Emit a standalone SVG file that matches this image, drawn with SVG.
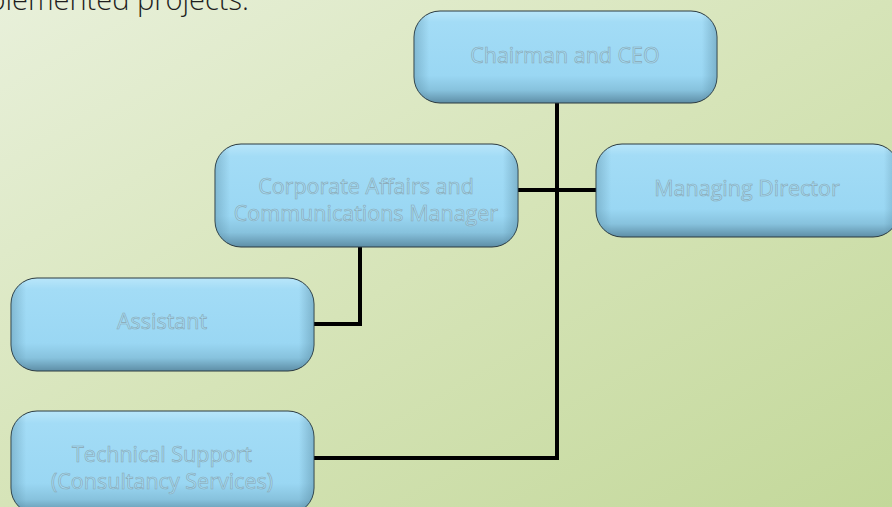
<svg xmlns="http://www.w3.org/2000/svg" width="892" height="507" viewBox="0 0 892 507">
<defs>
<linearGradient id="bg" x1="0" y1="0" x2="1" y2="1" gradientUnits="objectBoundingBox">
<stop offset="0" stop-color="#e8f0da"/>
<stop offset="0.5" stop-color="#d6e4b8"/>
<stop offset="1" stop-color="#c3d89a"/>
</linearGradient>
<linearGradient id="boxv" x1="0" y1="0" x2="0" y2="1">
<stop offset="0" stop-color="#b9e6fa"/>
<stop offset="0.12" stop-color="#a3dcf6"/>
<stop offset="0.7" stop-color="#9ad7f3"/>
<stop offset="0.86" stop-color="#87c2dd"/>
<stop offset="1" stop-color="#5e8ea6"/>
</linearGradient>
<linearGradient id="boxh" x1="0" y1="0" x2="1" y2="0">
<stop offset="0" stop-color="#4a7a90" stop-opacity="0.35"/>
<stop offset="0.05" stop-color="#4a7a90" stop-opacity="0"/>
<stop offset="0.95" stop-color="#4a7a90" stop-opacity="0"/>
<stop offset="1" stop-color="#4a7a90" stop-opacity="0.4"/>
</linearGradient>
</defs>
<style>
.box{fill:url(#boxv);stroke:#2b3a40;stroke-width:1}
.edge{fill:url(#boxh);stroke:none}
.lbl{font-family:"Open Sans","Noto Sans",sans-serif;font-size:21.5px;fill:#a2dbf5;stroke:#8aa7b2;stroke-width:0.6;text-anchor:middle}
.con{fill:none;stroke:#000;stroke-width:4}
.top{font-family:"Open Sans","Noto Sans",sans-serif;font-size:29px;font-weight:300;fill:#1e1e1e}
</style>
<rect x="0" y="0" width="892" height="507" fill="url(#bg)"/>
<text class="top" x="-44" y="10">implemented projects.</text>
<g id="connectors">
<polyline class="con" points="557,103 557,458 314,458"/>
<line class="con" x1="518" y1="190" x2="596" y2="190"/>
<polyline class="con" points="360,247 360,324 314,324"/>
</g>
<g id="chairman">
<rect class="box" x="414" y="11" width="303" height="92" rx="26"/>
<rect class="edge" x="414" y="11" width="303" height="92" rx="26"/>
<text class="lbl" x="565" y="63">Chairman and CEO</text>
</g>
<g id="corporate">
<rect class="box" x="215" y="144" width="303" height="103" rx="26"/>
<rect class="edge" x="215" y="144" width="303" height="103" rx="26"/>
<text class="lbl" x="366" y="194">Corporate Affairs and</text>
<text class="lbl" x="366" y="221">Communications Manager</text>
</g>
<g id="managing">
<rect class="box" x="596" y="144" width="303" height="93" rx="26"/>
<rect class="edge" x="596" y="144" width="303" height="93" rx="26"/>
<text class="lbl" x="747" y="196">Managing Director</text>
</g>
<g id="assistant">
<rect class="box" x="11" y="278" width="303" height="93" rx="26"/>
<rect class="edge" x="11" y="278" width="303" height="93" rx="26"/>
<text class="lbl" x="162" y="329">Assistant</text>
</g>
<g id="technical">
<rect class="box" x="11" y="411" width="303" height="103" rx="26"/>
<rect class="edge" x="11" y="411" width="303" height="103" rx="26"/>
<text class="lbl" x="162" y="462">Technical Support</text>
<text class="lbl" x="162" y="489">(Consultancy Services)</text>
</g>
</svg>
